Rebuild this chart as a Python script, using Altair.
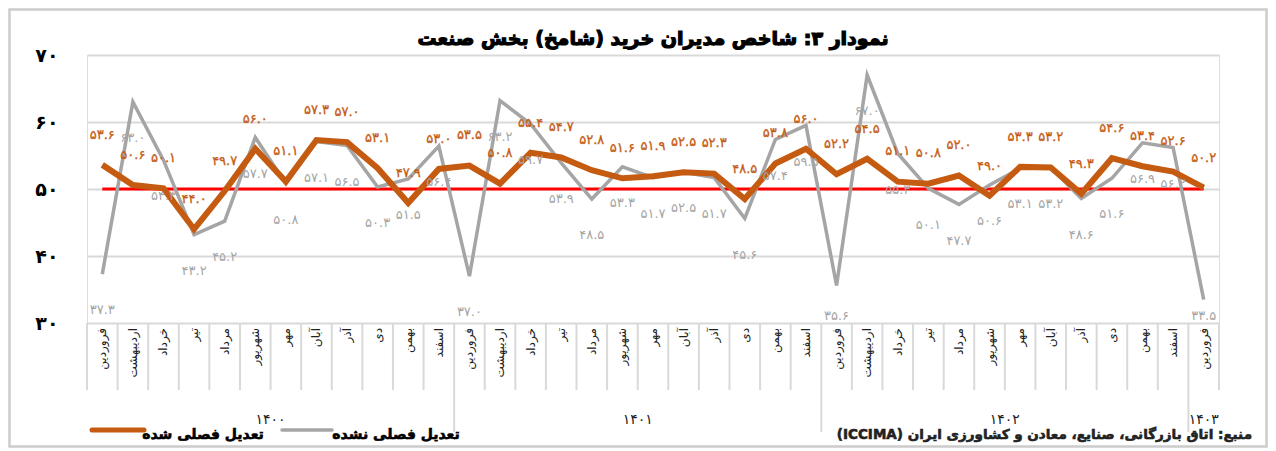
import altair as alt
import pandas as pd

months = ["فروردین", "اردیبهشت", "خرداد", "تیر", "مرداد", "شهریور",
          "مهر", "آبان", "آذر", "دی", "بهمن", "اسفند"]
years = ["۱۴۰۰", "۱۴۰۱", "۱۴۰۲", "۱۴۰۳"]

sa = [53.6, 50.6, 50.1, 44.0, 49.7, 56.0, 51.1, 57.3, 57.0, 53.1, 47.9, 53.0,
      53.5, 50.8, 55.4, 54.7, 52.8, 51.6, 51.9, 52.5, 52.3, 48.5, 53.8, 56.0,
      52.2, 54.5, 51.1, 50.8, 52.0, 49.0, 53.3, 53.2, 49.3, 54.6, 53.4, 52.6,
      50.2]
nsa = [37.3, 63.0, 54.3, 43.2, 45.2, 57.7, 50.8, 57.1, 56.5, 50.3, 51.5, 56.4,
       37.0, 63.2, 59.7, 53.9, 48.5, 53.3, 51.7, 52.5, 51.7, 45.6, 57.4, 59.5,
       35.6, 67.0, 55.3, 50.1, 47.7, 50.6, 53.1, 53.2, 48.6, 51.6, 56.9, 56.2,
       33.5]
threshold = 50

title = "نمودار ۳: شاخص مدیران خرید (شامخ) بخش صنعت"
legend_sa = "تعدیل فصلی شده"
legend_nsa = "تعدیل فصلی نشده"
source = "منبع: اتاق بازرگانی، صنایع، معادن و کشاورزی ایران (ICCIMA)"

RLE, PDF = "\u202b", "\u202c"   # right-to-left embedding for mixed text

FONT = "DejaVu Sans"
ORANGE = "#c55a11"
GRAY = "#a5a5a5"
GRID = "#d9d9d9"

W, H = 1132, 268
PL, PT, PR, PB = 79, 47, 49, 125

fa = str.maketrans("0123456789", "۰۱۲۳۴۵۶۷۸۹")
n = len(sa)
rows = []
for i in range(n):
    rows.append({"i": i, "month": months[i % 12], "sa": sa[i], "nsa": nsa[i],
                 "sa_lbl": f"{sa[i]:.1f}".translate(fa),
                 "nsa_lbl": f"{nsa[i]:.1f}".translate(fa),
                 "th": threshold})
df = pd.DataFrame(rows)

xs = alt.Scale(domain=[-0.5, n - 0.5], nice=False, zero=False)
ys = alt.Scale(domain=[30, 70], nice=False, zero=False)
X = alt.X("i:Q", scale=xs, axis=None)

y_labels = "['۳۰','۴۰','۵۰','۶۰','۷۰'][round((datum.value-30)/10)]"

base = alt.Chart(df)

grid_layer = base.mark_line(opacity=0).encode(
    x=X,
    y=alt.Y("sa:Q", scale=ys, title=None,
            axis=alt.Axis(values=[30, 40, 50, 60, 70], grid=True, gridColor=GRID,
                          gridWidth=2, domain=False, ticks=False,
                          labelExpr=y_labels, labelFont=FONT, labelFontSize=19,
                          labelFontWeight="bold", labelColor="#000000",
                          labelPadding=29)),
)

red = base.mark_line(color="#ff0000", strokeWidth=3).encode(x=X, y=alt.Y("th:Q", scale=ys))
gray_line = base.mark_line(color=GRAY, strokeWidth=3.5).encode(x=X, y=alt.Y("nsa:Q", scale=ys))
orange_line = base.mark_line(color=ORANGE, strokeWidth=6).encode(x=X, y=alt.Y("sa:Q", scale=ys))

orange_lbl = base.transform_calculate(ly="datum.sa + 4.5").mark_text(
    font=FONT, fontSize=13, color=ORANGE, baseline="middle",
    stroke=ORANGE, strokeWidth=0.3
).encode(x=X, y=alt.Y("ly:Q", scale=ys), text="sa_lbl:N")

gray_lbl = base.transform_calculate(ly="max(datum.nsa - 5.4, 31.1)").mark_text(
    font=FONT, fontSize=13, color=GRAY, baseline="middle"
).encode(x=X, y=alt.Y("ly:Q", scale=ys), text="nsa_lbl:N")

# month labels
month_lbl = base.mark_text(font=FONT, fontSize=12, color="#222222", angle=270,
                           align="right", baseline="middle").encode(
    x=X, y=alt.value(H + 5), text="month:N")

# separators between categories; year boundaries are longer
short_pos = [k - 0.5 for k in range(n + 1) if k not in (12, 24, 36)]
long_pos = [11.5, 23.5, 35.5]
sep_short = alt.Chart(pd.DataFrame({"p": short_pos})).mark_rule(color=GRID, strokeWidth=2).encode(
    x=alt.X("p:Q", scale=xs, axis=None), y=alt.value(H), y2=alt.value(335))
sep_long = alt.Chart(pd.DataFrame({"p": long_pos})).mark_rule(color=GRID, strokeWidth=2).encode(
    x=alt.X("p:Q", scale=xs, axis=None), y=alt.value(H), y2=alt.value(377))

# year labels
yr_df = pd.DataFrame({"c": [5.5, 17.5, 29.5, 36], "yr": years})
yr = alt.Chart(yr_df).mark_text(font=FONT, fontSize=14, color="#222222",
                                baseline="middle").encode(
    x=alt.X("c:Q", scale=xs, axis=None), y=alt.value(365), text="yr:N")

one = pd.DataFrame({"a": [0]})

title_mk = alt.Chart(one).mark_text(font=FONT, fontSize=19, fontWeight="bold",
                                   color="#000000", baseline="middle",
                                   stroke="#000000", strokeWidth=1.2).encode(
    x=alt.value(W / 2), y=alt.value(-16), text=alt.value(title))

leg1 = alt.Chart(one).mark_rule(color=ORANGE, strokeWidth=5, strokeCap="round").encode(
    x=alt.value(5), x2=alt.value(57), y=alt.value(375))
leg1t = alt.Chart(one).mark_text(font=FONT, fontSize=14, fontWeight="bold",
                                color="#000000", baseline="middle",
                                stroke="#000000", strokeWidth=0.6).encode(
    x=alt.value(116), y=alt.value(380), text=alt.value(legend_sa))
leg2 = alt.Chart(one).mark_rule(color=GRAY, strokeWidth=3.5, strokeCap="round").encode(
    x=alt.value(195), x2=alt.value(245), y=alt.value(375))
leg2t = alt.Chart(one).mark_text(font=FONT, fontSize=14, fontWeight="bold",
                                color="#000000", baseline="middle",
                                stroke="#000000", strokeWidth=0.6).encode(
    x=alt.value(309), y=alt.value(380), text=alt.value(legend_nsa))
src = alt.Chart(one).mark_text(font=FONT, fontSize=13.5, fontWeight="bold",
                               color="#222222", baseline="middle", align="right",
                               stroke="#222222", strokeWidth=0.6).encode(
    x=alt.value(1165), y=alt.value(380), text=alt.value(RLE + source + PDF))

border = alt.Chart(one).mark_rect(fill="#ffffff", fillOpacity=0, stroke="#cccccc",
                                  strokeWidth=2.5).encode(
    x=alt.value(-PL + 1.5), x2=alt.value(W + PR - 1.5),
    y=alt.value(-PT + 1.5), y2=alt.value(H + PB - 1.5))

chart = alt.layer(
    grid_layer, sep_short, sep_long, month_lbl, yr, red, gray_line, orange_line,
    gray_lbl, orange_lbl, title_mk, leg1, leg1t, leg2, leg2t, src, border
).properties(
    width=W, height=H,
    autosize=alt.AutoSizeParams(type="none"),
    padding={"left": PL, "top": PT, "right": PR, "bottom": PB},
).configure_view(stroke=None).configure(background="#ffffff")

chart.save("out.html", embed_options={"renderer": "svg", "actions": False})
